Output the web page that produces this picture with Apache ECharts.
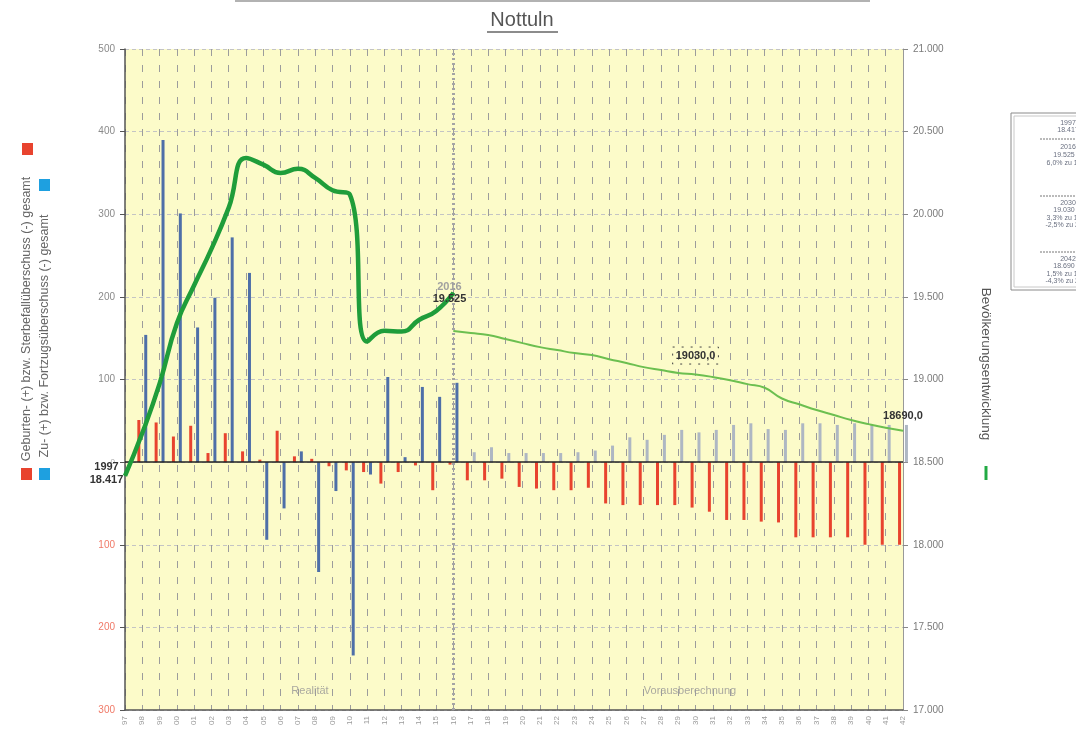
<!DOCTYPE html>
<html><head><meta charset="utf-8">
<script src="https://cdn.jsdelivr.net/npm/echarts@6/dist/echarts.min.js"></script>
<style>html,body{margin:0;padding:0;background:#fff}#c{width:1076px;height:732px}</style>
</head><body><div id="c"></div>
<script>
// ---- data ----
const years = ['1997','1998','1999','2000','2001','2002','2003','2004','2005','2006','2007','2008','2009','2010','2011','2012','2013','2014','2015','2016','2017','2018','2019','2020','2021','2022','2023','2024','2025','2026','2027','2028','2029','2030','2031','2032','2033','2034','2035','2036','2037','2038','2039','2040','2041','2042'];
// realised 1998..2016
const realBirthBalance = [51,48,31,44,11,35,13,3,38,7,4,-5,-10,-12,-26,-12,-4,-34,-3];
const realMigrationBalance = [154,390,301,163,199,272,229,-94,-56,13,-133,-35,-234,-15,103,6,91,79,96];
// forecast 2017..2042
const foreBirthBalance = [-22,-22,-20,-30,-32,-34,-34,-31,-50,-52,-52,-52,-52,-55,-60,-70,-70,-72,-73,-91,-91,-91,-91,-100,-100,-100];
const foreMigrationBalance = [12,18,11,11,11,11,12,14,20,30,27,33,39,36,39,45,47,40,39,47,47,45,47,45,45,45];
// population 1997..2016 (realised)
const realPopulation = [18417,18676,18975,19340,19570,19790,20040,20340,20300,20250,20275,20220,20145,20120,19230,19295,19290,19360,19415,19525];
// population 2016..2042 (forecast)
const forePopulation = [19293,19281,19269,19245,19220,19196,19178,19160,19148,19123,19100,19075,19057,19040,19030,19015,18996,18972,18950,18885,18850,18815,18785,18755,18730,18708,18690];
const leftTicks = {min:-300, max:500, step:100};
const rightTicks = {min:17000, max:21000, step:500};
const forecastLabelYears = ['2030','2042'];

// ---- helpers ----
const dots = v => String(v).replace(/\B(?=(\d{3})+(?!\d))/g,'.');
const pct = (a,b) => ((a/b-1)*100).toFixed(1).replace('.',',') + '%';
const realStart = years.indexOf('2016') - realPopulation.length + 1;
const foreStart = years.indexOf('2016');

const redData = [null].concat(realBirthBalance, foreBirthBalance);
const blueData = [null].concat(
  realMigrationBalance.map(v => ({value:v, itemStyle:{color:'#4e6fa8'}})),
  foreMigrationBalance.map(v => ({value:v, itemStyle:{color:'#aeb7c3'}}))
);
const popReal = years.map((y,i) => {
  const k = i - realStart;
  if (k < 0 || k >= realPopulation.length) return '-';
  const v = realPopulation[k];
  if (k === 0) return {value:v, label:{show:true, position:'left', distance:4, align:'center',
      formatter: () => y + '\n' + dots(v), fontWeight:'bold', fontSize:11, color:'#333', lineHeight:13, offset:[-14,-2]}};
  if (k === realPopulation.length-1) return {value:v, label:{show:true, position:'inside', offset:[-4,0],
      formatter: () => '{a|' + y + '}\n{b|' + dots(v) + '}',
      rich:{a:{color:'#a0a0a0', fontWeight:'bold', fontSize:11, lineHeight:12}, b:{color:'#333', fontWeight:'bold', fontSize:11, lineHeight:12}}}};
  return v;
});
const popFore = years.map((y,i) => {
  const k = i - foreStart;
  if (k < 0) return '-';
  const v = forePopulation[k];
  if (forecastLabelYears.includes(y)) {
    const first = forecastLabelYears[0] === y;
    return {value:v, label:{show:true, position:'top', distance: first ? 10 : 6,
      formatter: () => v.toFixed(1).replace('.',','), fontWeight:'bold', fontSize:11, color:'#333',
      borderColor: first ? '#444' : 'transparent', borderWidth: first ? 1 : 0, borderType:[2,7], padding:[3,3]}};
  }
  return v;
});

const p2016 = realPopulation[realPopulation.length-1];
const p1997 = realPopulation[0];
const midYear = forecastLabelYears[0], midVal = forePopulation[years.indexOf(midYear)-foreStart];
const endYear = years[years.length-1], endVal = forePopulation[forePopulation.length-1];
const boxText = [
  years[0] + '\n' + dots(p1997),
  '2016\n' + dots(p2016) + ' \u2794\n' + pct(p2016,p1997) + ' zu 1997',
  midYear + '\n' + dots(midVal) + ' \u2794\n' + pct(midVal,p1997) + ' zu 1997\n' + pct(midVal,p2016) + ' zu 2016',
  endYear + '\n' + dots(endVal) + ' \u2794\n' + pct(endVal,p1997) + ' zu 1997\n' + pct(endVal,p2016) + ' zu 2016'
];

const chart = echarts.init(document.getElementById('c'), null, {renderer:'canvas'});
const FONT = 'Liberation Sans, Arial, sans-serif';
chart.setOption({
  animation:false,
  textStyle:{fontFamily:FONT},
  grid:{left:125, right:173, top:49, bottom:22, show:true, backgroundColor:'#fcfbc9', borderWidth:0},
  xAxis:{type:'category', data:years, boundaryGap:false,
    axisLine:{show:true, onZero:false, lineStyle:{color:'#555', width:1.5}},
    axisTick:{show:false},
    axisLabel:{interval:0, rotate:90, fontSize:8, color:'#9a9a9a', margin:6, formatter:v => v.slice(2)},
    splitLine:{show:true, lineStyle:{color:'#9c9c9c', type:[7,9], width:1}}},
  yAxis:[
    {type:'value', position:'left', min:leftTicks.min, max:leftTicks.max, interval:leftTicks.step,
      axisLine:{show:true, lineStyle:{color:'#555', width:1.5}},
      axisTick:{show:true, length:5, lineStyle:{color:'#555'}},
      axisLabel:{margin:10, formatter:v => v < 0 ? '{n|' + (-v) + '}' : (v === 0 ? '{z|0}' : '{p|' + v + '}'),
        rich:{p:{color:'#8a8a8a', fontSize:10}, n:{color:'#f07a68', fontSize:10}, z:{color:'#aaa', fontSize:8}}},
      splitLine:{show:true, lineStyle:{color:'#c4c4c4', type:[4,3], width:1}}},
    {type:'value', position:'right', min:rightTicks.min, max:rightTicks.max, interval:rightTicks.step,
      axisLine:{show:true, lineStyle:{color:'#999', width:1}},
      axisTick:{show:true, length:5, lineStyle:{color:'#888'}},
      axisLabel:{margin:10, color:'#7a7a7a', fontSize:10, formatter:v => dots(v)},
      splitLine:{show:false}}
  ],
  series:[
    {name:'Geburten- (+) bzw. Sterbefallüberschuss (-) gesamt', type:'bar', yAxisIndex:0, barWidth:3, barGap:'130%',
      itemStyle:{color:'#e8432e'}, data:redData, silent:true,
      markLine:{silent:true, symbol:['none','none'], label:{show:false}, lineStyle:{color:'#222', type:'solid', width:1.5}, data:[{yAxis:0}]}},
    {name:'Zu- (+) bzw. Fortzugsüberschuss (-) gesamt', type:'bar', yAxisIndex:0, barWidth:3, barGap:'130%',
      itemStyle:{color:'#4e6fa8'}, data:blueData, silent:true},
    {name:'Bevölkerungsentwicklung', type:'line', yAxisIndex:1, data:popReal, smooth:0.5,
      symbol:'circle', symbolSize:1, showSymbol:true, showAllSymbol:true, silent:true,
      itemStyle:{color:'#1f9d3a'}, lineStyle:{color:'#1f9d3a', width:4.5}, z:5,
      markLine:{silent:true, symbol:['none','none'], label:{show:false}, lineStyle:{color:'#a4a4a4', type:[2,3], width:3}, data:[{xAxis:'2016'}]}},
    {name:'Vorausberechnung', type:'line', yAxisIndex:1, data:popFore, smooth:0.5,
      symbol:'circle', symbolSize:1, showSymbol:true, showAllSymbol:true, silent:true,
      itemStyle:{color:'#6cbf50'}, lineStyle:{color:'#6cbf50', width:2}, z:5}
  ],
  graphic:[
    {type:'line', shape:{x1:235, y1:1, x2:870, y2:1}, style:{stroke:'#999', lineWidth:1.5}},
    {type:'text', x:522, y:20, style:{text:'Nottuln', font:'20px ' + FONT, fill:'#555', textAlign:'center', textVerticalAlign:'middle'}},
    {type:'line', shape:{x1:487, y1:32, x2:558, y2:32}, style:{stroke:'#666', lineWidth:1.5}},
    {type:'text', x:310, y:691, style:{text:'Realität', font:'11px ' + FONT, fill:'#aaa9a0', textAlign:'center', textVerticalAlign:'middle'}},
    {type:'text', x:690, y:691, style:{text:'Vorausberechnung', font:'11px ' + FONT, fill:'#aaa9a0', textAlign:'center', textVerticalAlign:'middle'}},
    // left axis titles
    {type:'rect', shape:{x:22, y:143, width:11, height:12}, style:{fill:'#e8432e'}},
    {type:'rect', shape:{x:39, y:179, width:11, height:12}, style:{fill:'#1ea0e0'}},
    {type:'rect', shape:{x:21, y:468, width:11, height:12}, style:{fill:'#e8432e'}},
    {type:'rect', shape:{x:39, y:468, width:11, height:12}, style:{fill:'#1ea0e0'}},
    {type:'text', x:27, y:319, rotation:Math.PI/2, style:{text:'Geburten- (+) bzw. Sterbefallüberschuss (-) gesamt', font:'12.5px ' + FONT, fill:'#666', textAlign:'center', textVerticalAlign:'middle'}},
    {type:'text', x:45, y:336, rotation:Math.PI/2, style:{text:'Zu- (+) bzw. Fortzugsüberschuss (-) gesamt', font:'12.5px ' + FONT, fill:'#666', textAlign:'center', textVerticalAlign:'middle'}},
    // right axis title
    {type:'text', x:986, y:364, rotation:-Math.PI/2, style:{text:'Bevölkerungsentwicklung', font:'13.5px ' + FONT, fill:'#555', textAlign:'center', textVerticalAlign:'middle'}},
    {type:'line', shape:{x1:986, y1:466, x2:986, y2:480}, style:{stroke:'#22aa44', lineWidth:3}},
    // info box
    {type:'rect', shape:{x:1011, y:113, width:120, height:177}, style:{fill:'#fff', stroke:'#8a8a8a', lineWidth:1}},
    {type:'rect', shape:{x:1014, y:116, width:120, height:171}, style:{fill:'none', stroke:'#c8c8c8', lineWidth:1}},
    {type:'text', x:1068, y:119, style:{text:boxText[0], font:'7px ' + FONT, fill:'#6a7080', textAlign:'center', textVerticalAlign:'top', lineHeight:7.5}},
    {type:'line', shape:{x1:1040, y1:139, x2:1076, y2:139}, style:{stroke:'#777', lineWidth:1, lineDash:[2,1]}},
    {type:'text', x:1068, y:143, style:{text:boxText[1], font:'7px ' + FONT, fill:'#6a7080', textAlign:'center', textVerticalAlign:'top', lineHeight:8}},
    {type:'line', shape:{x1:1040, y1:196, x2:1076, y2:196}, style:{stroke:'#777', lineWidth:1, lineDash:[2,1]}},
    {type:'text', x:1068, y:199, style:{text:boxText[2], font:'7px ' + FONT, fill:'#6a7080', textAlign:'center', textVerticalAlign:'top', lineHeight:7.5}},
    {type:'line', shape:{x1:1040, y1:252, x2:1076, y2:252}, style:{stroke:'#777', lineWidth:1, lineDash:[2,1]}},
    {type:'text', x:1068, y:255, style:{text:boxText[3], font:'7px ' + FONT, fill:'#6a7080', textAlign:'center', textVerticalAlign:'top', lineHeight:7.5}}
  ]
});
</script></body></html>
